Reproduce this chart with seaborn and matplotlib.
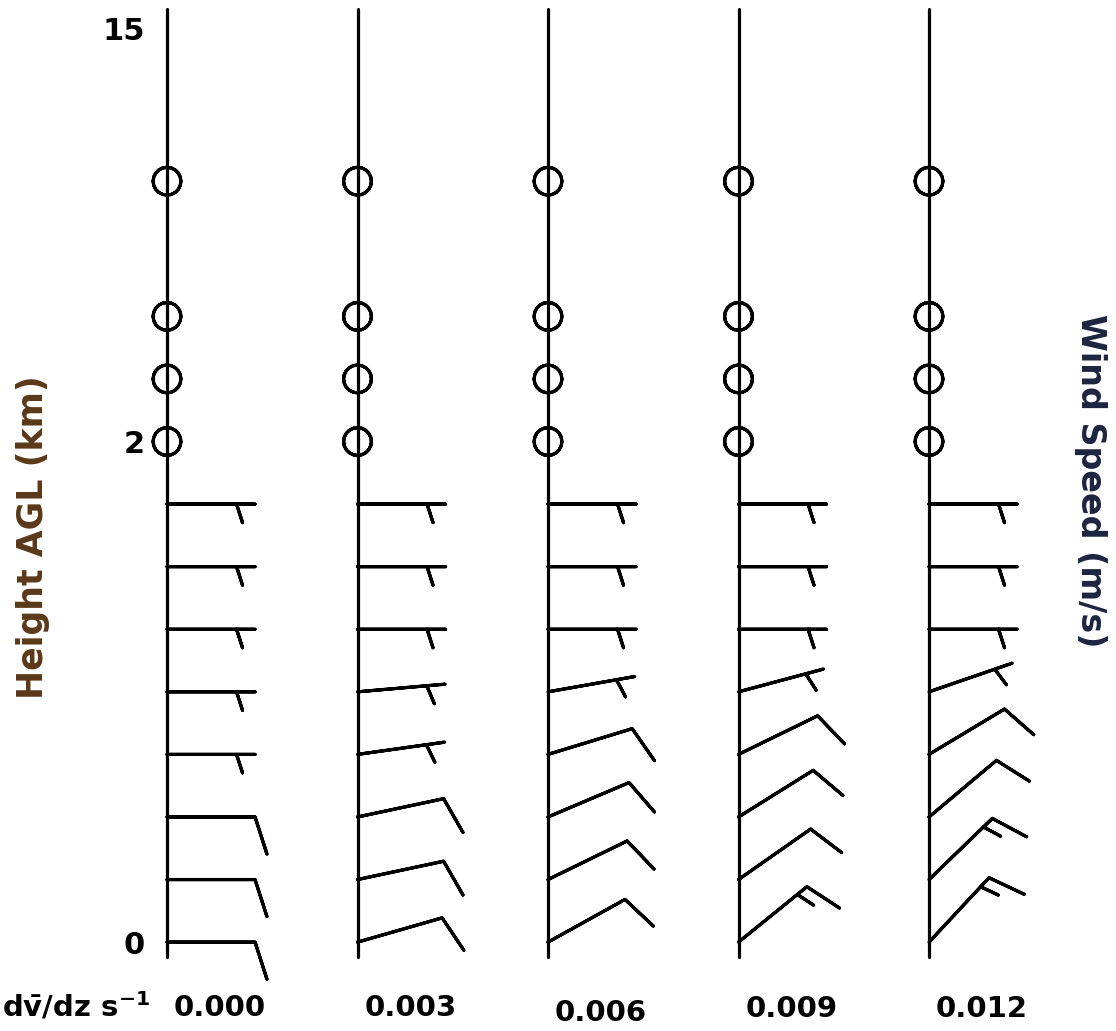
import numpy as np
import pandas as pd
import matplotlib
matplotlib.use("Agg")
import matplotlib.pyplot as plt
import seaborn as sns

# ---------------- data ----------------
gradients = ["0.000", "0.003", "0.006", "0.009", "0.012"]
barb_heights = [0.0, 0.25, 0.5, 0.75, 1.0, 1.25, 1.5, 1.75]   # km AGL
calm_heights = [2.0, 2.25, 2.5, 3.0]                           # km AGL (calm)
speed_000 = [10, 10, 10, 5, 5, 5, 5, 5]
speed_003 = [10, 10, 10, 5, 5, 5, 5, 5]
speed_006 = [10, 10, 10, 10, 5, 5, 5, 5]
speed_009 = [15, 10, 10, 10, 5, 5, 5, 5]
speed_012 = [15, 15, 10, 10, 5, 5, 5, 5]
dir_000 = [90, 90, 90, 90, 90, 90, 90, 90]
dir_003 = [74, 78, 78, 82, 85, 90, 90, 90]
dir_006 = [61, 64, 67, 73, 80, 90, 90, 90]
dir_009 = [51, 55, 58, 64, 75, 90, 90, 90]
dir_012 = [43, 46, 50, 59, 71, 90, 90, 90]
y_ticks = [0, 2, 15]
staff_range = [-0.06, 16.5]

speeds = [speed_000, speed_003, speed_006, speed_009, speed_012]
dirs = [dir_000, dir_003, dir_006, dir_009, dir_012]

# ---------------- tables ----------------
rows = []
for i, g in enumerate(gradients):
    for h, s, d in zip(barb_heights, speeds[i], dirs[i]):
        rows.append(dict(col=i, grad=g, height=h, speed=s, direction=d))
    for h in calm_heights:
        rows.append(dict(col=i, grad=g, height=h, speed=0, direction=0))
wind = pd.DataFrame(rows)
rad = np.deg2rad(wind["direction"])
wind["u"] = -wind["speed"] * np.sin(rad)
wind["v"] = -wind["speed"] * np.cos(rad)

staff = pd.DataFrame([dict(col=i, height=h) for i in range(len(gradients)) for h in staff_range])

# ---------------- style ----------------
sns.set_theme(style="white")
plt.rcParams["font.family"] = ["DejaVu Sans"]
plt.rcParams["mathtext.fontset"] = "dejavusans"

W, H = 1116, 1031
col_px0, col_step = 167.0, 190.5
fig = plt.figure(figsize=(W / 100, H / 100), dpi=100)
ax = fig.add_axes([col_px0 / W, 0, (W - col_px0) / W, 1])
ax.set_facecolor("white")
ax.patch.set_alpha(0)


def fwd(h):
    h = np.asarray(h, dtype=float)
    return np.where(h <= 2.5, h,
                    np.where(h <= 3.0, 2.5 + (h - 2.5) * 1.08,
                             3.04 + (h - 3.0) * 0.61 / 12.0))


def inv(d):
    d = np.asarray(d, dtype=float)
    return np.where(d <= 2.5, d,
                    np.where(d <= 3.04, 2.5 + (d - 2.5) / 1.08,
                             3.0 + (d - 3.04) * 12.0 / 0.61))


ax.set_yscale("function", functions=(fwd, inv))
ax.set_xlim(0, (W - col_px0) / col_step)
ax.set_ylim(-0.355, 17.24)

# staffs
sns.lineplot(data=staff, x="col", y="height", units="col", estimator=None,
             sort=False, orient="y", color="black", lw=2.3, ax=ax, legend=False,
             clip_on=False)

# wind barbs and calm circles
ax.barbs(wind["col"], wind["height"], wind["u"], wind["v"],
         length=11.26, linewidth=2.3, barbcolor="black", flagcolor="black",
         pivot="tip", zorder=3, clip_on=False,
         sizes=dict(emptybarb=0.158, spacing=0.14, height=0.42, width=0.27))

# axes cosmetics
for s in ax.spines.values():
    s.set_visible(False)
ax.set_xticks([])
ax.set_yticks(y_ticks)
ax.set_yticklabels([str(t) for t in y_ticks], fontsize=22, fontweight="bold", color="black")
ax.tick_params(axis="y", length=0, pad=16)
ax.set_xlabel("")
ax.set_ylabel("")

# bottom labels
label_dy = [1008, 1008, 1013, 1009, 1009]
for i, g in enumerate(gradients):
    ax.text(i + 53 / col_step, 1 - label_dy[i] / H, g, transform=ax.get_xaxis_transform(),
            ha="center", va="center", fontsize=21, fontweight="bold", color="black")
fig.text(150 / W, 1 - 1007 / H, r"d$\mathbf{\bar{v}}$/dz s$^{\mathbf{-1}}$",
         ha="right", va="center", fontsize=21, fontweight="bold", color="black")

fig.text(33 / W, 1 - 537 / H, "Height AGL (km)", rotation=90, ha="center", va="center",
         fontsize=25, fontweight="bold", color="#5a3818")
fig.text(1090 / W, 1 - 481 / H, "Wind Speed (m/s)", rotation=-90, ha="center", va="center",
         fontsize=24, fontweight="bold", color="#1c2440")

fig.savefig("out.png", dpi=100, facecolor="white")
